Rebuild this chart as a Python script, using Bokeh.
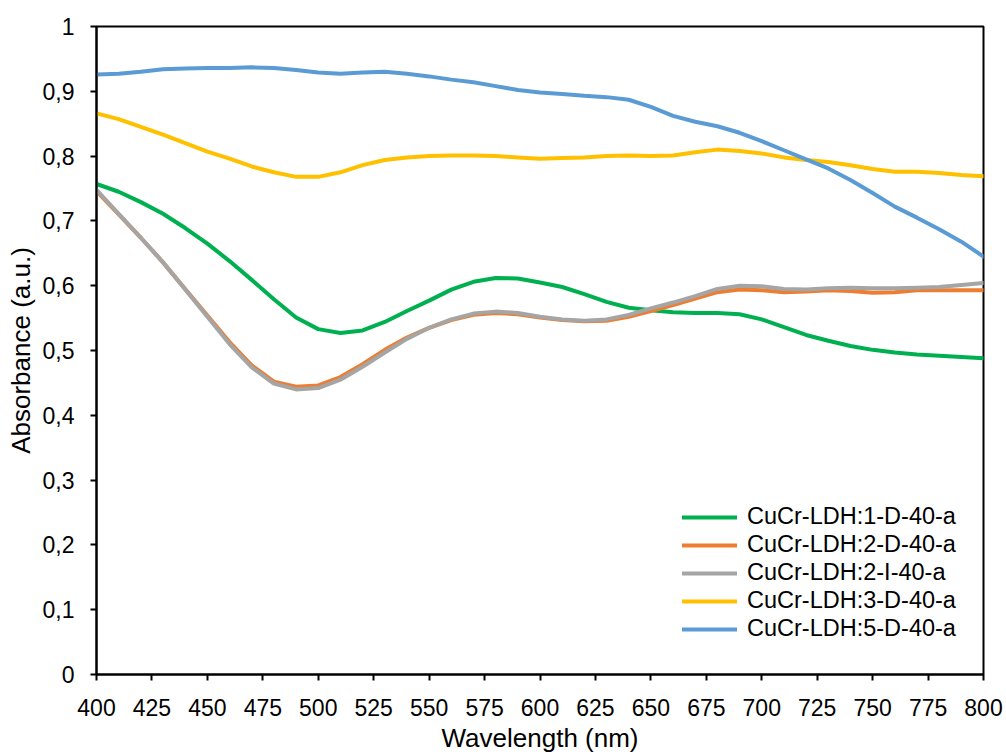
from bokeh.plotting import figure
from bokeh.models import FixedTicker, Legend, LegendItem
from bokeh.embed import file_html
from bokeh.resources import INLINE

# ---- data ----
wavelength = [400, 410, 420, 430, 440, 450, 460, 470, 480, 490, 500,
              510, 520, 530, 540, 550, 560, 570, 580, 590, 600,
              610, 620, 630, 640, 650, 660, 670, 680, 690, 700,
              710, 720, 730, 740, 750, 760, 770, 780, 790, 800]

ldh_1D = [0.757, 0.745, 0.729, 0.711, 0.689, 0.665, 0.638, 0.609, 0.579, 0.551, 0.533,
          0.527, 0.531, 0.544, 0.561, 0.577, 0.594, 0.606, 0.612, 0.611, 0.605,
          0.598, 0.587, 0.575, 0.566, 0.562, 0.559, 0.558, 0.558, 0.556, 0.548,
          0.536, 0.524, 0.515, 0.507, 0.501, 0.497, 0.494, 0.492, 0.490, 0.488]

ldh_2D = [0.746, 0.710, 0.674, 0.636, 0.595, 0.554, 0.513, 0.477, 0.452, 0.444, 0.446,
          0.459, 0.479, 0.501, 0.520, 0.535, 0.547, 0.555, 0.558, 0.556, 0.551,
          0.547, 0.545, 0.546, 0.552, 0.561, 0.570, 0.580, 0.590, 0.594, 0.593,
          0.590, 0.591, 0.593, 0.592, 0.589, 0.590, 0.593, 0.593, 0.593, 0.593]

ldh_2I = [0.748, 0.711, 0.674, 0.636, 0.594, 0.552, 0.510, 0.474, 0.449, 0.440, 0.442,
          0.455, 0.475, 0.497, 0.518, 0.535, 0.548, 0.557, 0.560, 0.558, 0.552,
          0.548, 0.546, 0.548, 0.555, 0.565, 0.574, 0.584, 0.595, 0.600, 0.599,
          0.595, 0.594, 0.596, 0.597, 0.596, 0.596, 0.597, 0.598, 0.601, 0.604]

ldh_3D = [0.866, 0.857, 0.845, 0.833, 0.820, 0.807, 0.796, 0.784, 0.775, 0.768, 0.768,
          0.775, 0.786, 0.794, 0.798, 0.800, 0.801, 0.801, 0.800, 0.798, 0.796,
          0.797, 0.798, 0.800, 0.801, 0.800, 0.801, 0.806, 0.810, 0.808, 0.804,
          0.798, 0.794, 0.791, 0.786, 0.780, 0.776, 0.776, 0.774, 0.771, 0.769]

ldh_5D = [0.926, 0.927, 0.930, 0.934, 0.935, 0.936, 0.936, 0.937, 0.936, 0.933, 0.929,
          0.927, 0.929, 0.930, 0.927, 0.923, 0.918, 0.914, 0.908, 0.902, 0.898,
          0.896, 0.893, 0.891, 0.887, 0.876, 0.862, 0.853, 0.846, 0.836, 0.823,
          0.809, 0.795, 0.781, 0.763, 0.743, 0.722, 0.705, 0.687, 0.668, 0.645]

series_names = ["CuCr-LDH:1-D-40-a", "CuCr-LDH:2-D-40-a", "CuCr-LDH:2-I-40-a",
                "CuCr-LDH:3-D-40-a", "CuCr-LDH:5-D-40-a"]
series_values = [ldh_1D, ldh_2D, ldh_2I, ldh_3D, ldh_5D]
series_colors = ["#00B050", "#ED7D31", "#A5A5A5", "#FFC000", "#5B9BD5"]

x_ticks = [400, 425, 450, 475, 500, 525, 550, 575, 600, 625, 650, 675, 700, 725, 750, 775, 800]
y_ticks = [0.0, 0.1, 0.2, 0.3, 0.4, 0.5, 0.6, 0.7, 0.8, 0.9, 1.0]
y_tick_labels = ["0", "0,1", "0,2", "0,3", "0,4", "0,5", "0,6", "0,7", "0,8", "0,9", "1"]

FONT = "Liberation Sans"

p = figure(width=1006, height=756, output_backend="svg", toolbar_location=None,
           x_range=(400, 800), y_range=(0, 1),
           min_border_left=96, min_border_right=23, min_border_top=26, min_border_bottom=82)

renderers = []
for name, vals, col in zip(series_names, series_values, series_colors):
    r = p.line(wavelength, vals, line_color=col, line_width=4, line_join="round", line_cap="round")
    renderers.append((name, r))

p.xgrid.visible = False
p.ygrid.visible = False
p.outline_line_color = "black"
p.outline_line_width = 2
p.background_fill_color = "white"
p.border_fill_color = "white"

p.xaxis.ticker = FixedTicker(ticks=x_ticks)
p.yaxis.ticker = FixedTicker(ticks=y_ticks)
p.yaxis.major_label_overrides = dict(zip(y_ticks, y_tick_labels))

for ax in (p.xaxis[0], p.yaxis[0]):
    ax.axis_line_color = "black"
    ax.axis_line_width = 2
    ax.major_tick_line_color = "black"
    ax.major_tick_line_width = 2
    ax.major_tick_out = 6
    ax.major_tick_in = 0
    ax.minor_tick_line_color = None
    ax.major_label_text_font = FONT
    ax.major_label_text_font_size = "23px"
    ax.major_label_text_color = "black"
    ax.axis_label_text_font = FONT
    ax.axis_label_text_font_size = "26px"
    ax.axis_label_text_font_style = "normal"
    ax.axis_label_text_color = "black"

p.xaxis.axis_label = "Wavelength (nm)"
p.yaxis.axis_label = "Absorbance (a.u.)"
p.xaxis.major_label_standoff = 18
p.yaxis.major_label_standoff = 16
p.xaxis.axis_label_standoff = 4
p.yaxis.axis_label_standoff = 4

legend = Legend(items=[LegendItem(label=n, renderers=[r]) for n, r in renderers],
                location=(586, 32), padding=0, margin=0, spacing=1,
                glyph_width=55, glyph_height=24, label_height=24, label_standoff=10,
                label_text_font=FONT, label_text_font_size="23.5px", label_text_color="black",
                border_line_alpha=0, background_fill_alpha=0)
p.add_layout(legend, "center")

open("out.html", "w").write(file_html(p, INLINE))
